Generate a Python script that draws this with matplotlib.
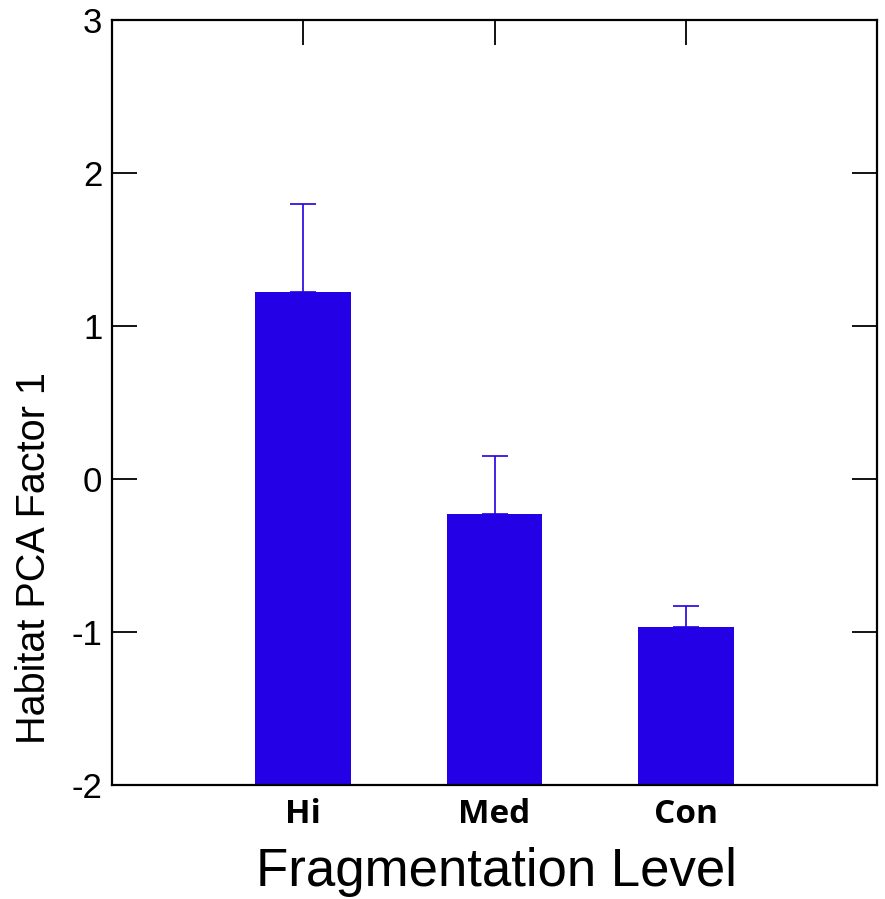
import matplotlib.pyplot as plt

categories = ["Hi", "Med", "Con"]
means = [1.22, -0.23, -0.97]
errors_up = [0.58, 0.38, 0.14]
y_ticks = [-2, -1, 0, 1, 2, 3]

bar_color = "#2300E5"
baseline = -2

fig = plt.figure(figsize=(8.85, 8.99), dpi=100)
ax = fig.add_axes([0.1266, 0.1268, 0.8644, 0.851])

x = list(range(1, len(categories) + 1))
heights = [m - baseline for m in means]
ax.bar(x, heights, bottom=baseline, width=0.5, color=bar_color, zorder=2)
ax.errorbar(x, means, yerr=[[0] * len(means), errors_up], fmt="none",
            ecolor=bar_color, elinewidth=1.2, capsize=9.5, capthick=1.2, zorder=1)

ax.set_xlim(0, 4)
ax.set_ylim(-2, 3)
ax.set_yticks(y_ticks)
ax.set_yticklabels([str(t) for t in y_ticks], family="Liberation Sans", fontsize=25)
ax.set_xticks(x)
ax.set_xticklabels(categories, family=["Open Sans", "DejaVu Sans"],
                   fontweight="bold", fontsize=24)

for s in ax.spines.values():
    s.set_linewidth(1.6)
ax.tick_params(axis="both", which="major", direction="in", length=18, width=1.3,
               top=True, right=True)
ax.tick_params(axis="y", pad=7)
ax.tick_params(axis="x", pad=9)

# label sits low on the left side in the original
ax.set_ylabel("Habitat PCA Factor 1", family="Liberation Sans", fontsize=28.5)
ax.yaxis.set_label_coords(-0.077, 0.297)

fig.text(0.561, 0.015, "Fragmentation Level", family="Liberation Sans",
         fontsize=38, ha="center", va="baseline")

fig.savefig("out.png", dpi=100)
